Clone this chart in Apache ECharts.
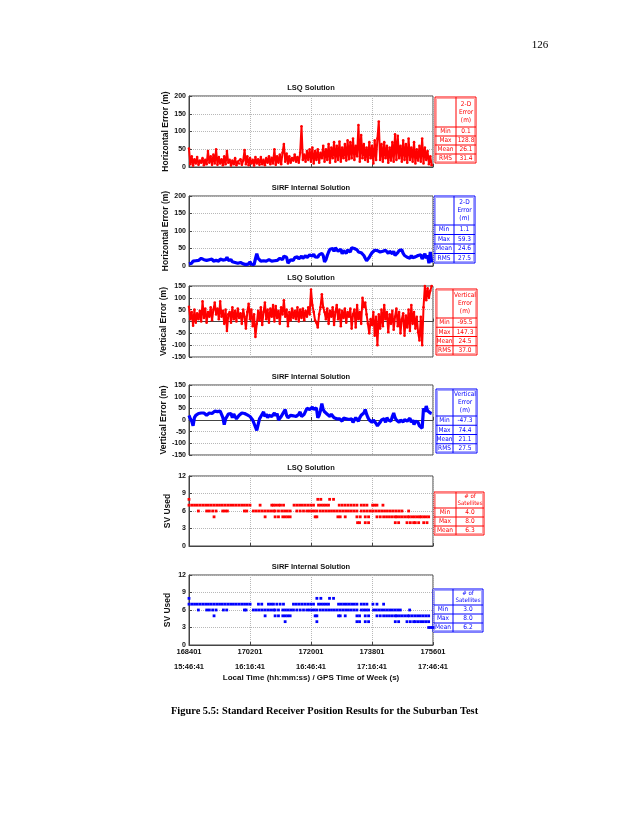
<!DOCTYPE html>
<html><head><meta charset="utf-8">
<script src="https://cdn.jsdelivr.net/npm/echarts@6/dist/echarts.min.js"></script>
<style>html,body{margin:0;padding:0;background:#fff}#c{width:638px;height:826px}</style>
</head><body><div id="c"></div>
<script>
// ---------- DATA ----------
const STEP = 40; // seconds between read samples (offset from 168401 s)
const gpsTicks = ['168401','170201','172001','173801','175601'];
const localTicks = ['15:46:41','16:16:41','16:46:41','17:16:41','17:46:41'];

const lsqHorz = [
52,8,30,4,22,10,28,6,18,12,
25,5,20,8,45,12,30,6,35,10,
50,6,28,10,22,5,30,8,45,12,
20,4,18,8,25,5,15,10,22,6,
18,48,8,30,5,25,10,20,4,28,
10,22,6,28,8,20,5,25,12,30,
8,26,10,50,6,30,12,35,8,40,
65,15,38,10,30,12,25,18,35,15,
28,12,40,115,20,35,15,45,20,50,
15,55,10,45,20,50,12,40,25,60,
15,50,20,65,12,55,25,70,15,60,
20,72,15,55,25,65,18,75,22,70,
25,80,20,60,30,118,15,90,25,65,
20,55,15,70,25,60,10,75,20,80,
128,20,65,15,70,25,60,12,55,18,
70,15,92,20,88,25,60,15,75,20,
65,12,80,20,55,15,70,10,50,18,
60,15,80,10,55,20,45,8,30,5];

const sirfHorz = [
6,10,8,14,18,15,20,16,18,22,
25,18,14,16,12,18,15,20,14,12,
16,18,14,20,15,17,22,18,25,16,
14,18,12,16,10,14,8,12,10,8,
6,10,4,8,6,12,5,8,4,20,
35,22,18,14,17,15,18,14,16,18,
16,14,18,15,20,16,18,22,20,18,
28,32,25,8,6,18,22,16,24,20,
26,20,24,28,22,26,30,24,28,32,
30,28,34,26,30,25,32,28,36,30,
12,18,30,40,48,45,50,42,52,48,
42,38,48,35,44,40,36,46,42,40,
52,56,50,54,46,40,44,38,35,30,
22,15,18,25,32,38,42,45,48,44,
46,40,44,42,38,45,40,36,42,38,
35,42,30,28,38,44,40,46,36,30,
32,25,28,22,30,24,20,26,22,30,
25,32,20,28,35,22,30,8,40,10];

const lsqVert = [
62,10,40,-18,50,-5,35,10,45,0,
85,15,55,-5,40,20,60,5,50,80,
30,55,10,85,20,45,-10,50,-40,30,
40,-5,60,10,45,0,55,15,35,-10,
50,20,-30,40,75,10,50,-20,30,-65,
-10,45,5,60,-15,40,80,10,50,-5,
55,20,70,0,65,15,45,-10,60,30,
90,20,50,-20,40,5,55,15,45,10,
60,0,50,15,55,5,45,20,60,30,
135,70,40,5,-5,-25,30,60,115,60,
40,10,55,-10,45,20,60,-15,40,70,
10,50,-20,45,15,55,-5,40,20,55,
-30,30,50,-25,70,10,40,-10,100,60,
80,30,-10,-50,10,-15,40,-60,20,-100,
30,-30,50,-20,70,10,40,-45,30,-10,
45,-35,20,55,-20,40,-50,10,35,-60,
25,-25,50,-40,70,-10,40,-30,20,-45,
-80,20,-100,60,150,90,140,100,130,150];

const sirfVert = [
20,5,-5,-25,10,20,25,28,22,30,
25,30,28,20,25,30,35,28,32,38,
40,36,42,38,30,10,-20,5,15,25,
20,28,10,25,15,5,12,20,25,30,
35,28,30,22,25,15,10,0,5,-30,
-45,-20,5,15,20,35,15,25,10,20,
25,15,20,30,18,28,0,5,15,25,
35,45,20,10,15,20,12,18,10,15,
20,25,35,15,20,25,30,50,55,45,
50,55,45,48,52,10,20,40,70,45,
35,28,25,20,15,25,18,10,15,5,
0,5,10,-5,8,0,5,-3,2,8,
5,-10,0,10,15,-5,10,20,12,30,
45,25,10,0,-5,-10,0,-8,-15,-25,
-30,-10,0,-5,5,-10,10,0,5,-5,
15,30,10,0,5,-10,0,5,-8,2,
5,-5,0,8,-10,0,-20,-5,0,-10,
-25,-30,-35,50,35,60,40,45,30,28];

// SV used: runs [startSec, endSec, count]
const lsqSv = [
[0,0,8],[3800,3890,8],[4150,4265,8],
[0,1800,7],[2098,2098,7],[2443,2492,7],[2560,2640,7],[2700,2790,7],[3100,3674,7],[3822,4117,7],[4433,4955,7],[5083,5250,7],[5418,5546,7],[5723,5723,7],
[276,276,6],[522,601,6],[699,798,6],[995,1133,6],[1635,1704,6],[1901,2492,6],[2541,2640,6],[2738,2985,6],[3182,3379,6],[3477,3773,6],[3871,4955,6],[5083,5349,6],[5427,6284,6],[6481,6481,6],
[739,739,5],[2246,2246,5],[2541,2640,5],[2768,2985,5],[3723,3773,5],[4393,4462,5],[4610,4610,5],[4955,5053,5],[5201,5299,5],[5546,5644,5],[5743,6087,5],[6130,6450,5],[6500,6800,5],[6850,7072,5],
[4974,5033,4],[5201,5299,4],[6087,6186,4],[6432,6629,4],[6678,6777,4],[6925,7023,4]];

const sirfSv = [
[0,0,8],[3773,3891,8],[4147,4265,8],
[0,1803,7],[2049,2147,7],[2344,2492,7],[2591,2788,7],[3083,3674,7],[3822,4117,7],[4413,4955,7],[5083,5250,7],[5427,5546,7],[5743,5743,7],
[276,276,6],[522,601,6],[699,798,6],[1015,1113,6],[1635,1684,6],[1901,2492,6],[2541,2640,6],[2768,3083,6],[3182,3379,6],[3477,3773,6],[3871,4955,6],[5083,5299,6],[5447,6235,6],[6511,6511,6],
[739,739,5],[2246,2246,5],[2541,2640,5],[2768,2985,5],[3723,3773,5],[4413,4462,5],[4610,4610,5],[4955,5033,5],[5201,5299,5],[5546,5644,5],[5743,6087,5],[6130,6450,5],[6500,7072,5],
[2837,2837,4],[3773,3773,4],[4955,5033,4],[5201,5299,4],[6087,6186,4],[6432,6629,4],[6678,7072,4],
[7072,7200,3]];

const statLabels4 = ['Min','Max','Mean','RMS'];
const statLabels3 = ['Min','Max','Mean'];
const lsqHorzStats = ['0.1','128.8','26.1','31.4'];
const sirfHorzStats = ['1.1','59.3','24.6','27.5'];
const lsqVertStats = ['-95.5','147.3','24.5','37.0'];
const sirfVertStats = ['-47.3','74.4','21.1','27.5'];
const lsqSvStats = ['4.0','8.0','6.3'];
const sirfSvStats = ['3.0','8.0','6.2'];

// ---------- LAYOUT ----------
const RED = '#ff0000', BLUE = '#0000ff';
const SANS = "'Liberation Sans', Arial, sans-serif";
const NARROW = "'Liberation Sans Narrow','DejaVu Sans Condensed','Liberation Sans',sans-serif";
const PLOT_L = 189, PLOT_W = 244;
const panels = [
  {top:96, h:71, title:'LSQ Solution', yname:'Horizontal Error (m)', min:0, max:200, iv:50},
  {top:196, h:70, title:'SiRF Internal Solution', yname:'Horizontal Error (m)', min:0, max:200, iv:50},
  {top:286, h:71, title:'LSQ Solution', yname:'Vertical Error (m)', min:-150, max:150, iv:50},
  {top:385, h:70, title:'SiRF Internal Solution', yname:'Vertical Error (m)', min:-150, max:150, iv:50},
  {top:476, h:70, title:'LSQ Solution', yname:'SV Used', min:0, max:12, iv:3},
  {top:575, h:70, title:'SiRF Internal Solution', yname:'SV Used', min:0, max:12, iv:3}
];
const tables = [
  {x:435, y:97, w:41, split:21, hh:30, rh:9, color:RED, head:['2-D','Error','(m)'], labels:statLabels4, vals:lsqHorzStats},
  {x:434, y:196, w:41, split:20, hh:29, rh:9.5, color:BLUE, head:['2-D','Error','(m)'], labels:statLabels4, vals:sirfHorzStats},
  {x:436, y:289, w:41, split:17, hh:29, rh:9.25, color:RED, head:['Vertical','Error','(m)'], labels:statLabels4, vals:lsqVertStats},
  {x:436, y:389, w:41, split:17, hh:27, rh:9.25, color:BLUE, head:['Vertical','Error','(m)'], labels:statLabels4, vals:sirfVertStats},
  {x:434, y:492, w:50, split:22, hh:16, rh:9, color:RED, head:['# of','Satellites'], labels:statLabels3, vals:lsqSvStats},
  {x:433, y:589, w:50, split:20, hh:16, rh:9, color:BLUE, head:['# of','Satellites'], labels:statLabels3, vals:sirfSvStats}
];

function txt(x, y, s, font, fill, align){
  return {type:'text', x:x, y:y, silent:true,
    style:{text:s, font:font, fill:fill, align:align||'center', verticalAlign:'middle',
           textAlign:align||'center', textVerticalAlign:'middle'}};
}
function tableEls(t){
  const els = [], c = t.color, n = t.labels.length, h = t.hh + n*t.rh;
  els.push({type:'rect', shape:{x:t.x, y:t.y, width:t.w, height:h}, style:{fill:'#fff', stroke:c, lineWidth:1}});
  els.push({type:'rect', shape:{x:t.x+1.5, y:t.y+1.5, width:t.w-3, height:h-3}, style:{fill:'none', stroke:c, lineWidth:0.6, opacity:0.6}});
  els.push({type:'line', shape:{x1:t.x+t.split, y1:t.y, x2:t.x+t.split, y2:t.y+h}, style:{stroke:c, lineWidth:1}});
  const cx1 = t.x + t.split/2, cx2 = t.x + t.split + (t.w - t.split)/2;
  const hf = t.head.length === 3 ? 8 : 7;
  const hc = t.y + t.hh/2;
  t.head.forEach((s,i)=>{
    els.push(txt(cx2, hc + (i - (t.head.length-1)/2)*hf, s, (t.head.length===3?'6.5px ':'6px ')+NARROW, c));
  });
  for (let i=0;i<n;i++){
    const y = t.y + t.hh + i*t.rh;
    els.push({type:'line', shape:{x1:t.x, y1:y, x2:t.x+t.w, y2:y}, style:{stroke:c, lineWidth:1}});
    els.push(txt(cx1, y + t.rh/2, t.labels[i], '6.5px '+NARROW, c));
    els.push(txt(cx2, y + t.rh/2, t.vals[i], '6.5px '+NARROW, c));
  }
  return els;
}

function svRender(color){
  return function(params, api){
    const a = api.coord([api.value(0), api.value(2)]);
    const b = api.coord([api.value(1), api.value(2)]);
    const children = [];
    const len = Math.max(b[0]-a[0], 0);
    const n = Math.max(1, Math.round(len/2.8)+1);
    for (let i=0;i<n;i++){
      const x = n===1 ? a[0] : a[0] + len*i/(n-1);
      children.push({type:'rect', shape:{x:x-1.4, y:a[1]-1.4, width:2.8, height:2.8}, style:{fill:color}});
    }
    return {type:'group', children:children};
  };
}

const grids = [], xAxes = [], yAxes = [];
panels.forEach((p,i)=>{
  const last = i === panels.length-1;
  grids.push({left:PLOT_L, width:PLOT_W, top:p.top, height:p.h, show:true, borderColor:'#444', borderWidth:1, backgroundColor:'#fff'});
  xAxes.push({type:'value', gridIndex:i, min:0, max:7200, interval:1800,
    axisLine:{show:true, lineStyle:{color:'#444', width:1}},
    axisTick:{show:true, inside:true, length:3, lineStyle:{color:'#444'}},
    splitLine:{show:true, lineStyle:{color:'#b8b8b8', type:'dotted', width:1}},
    axisLabel:{show:last, margin:3, fontSize:7.5, fontWeight:'bold', fontFamily:SANS, color:'#111', lineHeight:7.5,
      formatter:function(v){ const k = Math.round(v/1800); return gpsTicks[k] + '\n\n' + localTicks[k]; }},
    name: last ? 'Local Time (hh:mm:ss) / GPS Time of Week (s)' : '',
    nameLocation:'middle', nameGap:29,
    nameTextStyle:{fontSize:8, fontWeight:'bold', fontFamily:SANS, color:'#111'}
  });
  yAxes.push({type:'value', gridIndex:i, min:p.min, max:p.max, interval:p.iv,
    axisLine:{show:true, lineStyle:{color:'#444', width:1}},
    axisTick:{show:true, inside:true, length:3, lineStyle:{color:'#444'}},
    splitLine:{show:true, lineStyle:{color:'#b8b8b8', type:'dotted', width:1}},
    axisLabel:{margin:3, fontSize:7, fontWeight:'bold', fontFamily:SANS, color:'#111'},
    name:p.yname, nameLocation:'middle', nameGap:17,
    nameTextStyle:{fontSize:8.5, fontWeight:'bold', fontFamily:SANS, color:'#111'}
  });
});

function lineSeries(idx, arr, color, w, dots){
  return {type:'line', xAxisIndex:idx, yAxisIndex:idx,
    showSymbol:!!dots, symbol:'circle', symbolSize:dots||0,
    data: arr.map((v,i)=>[i*STEP, v]), lineStyle:{color:color, width:w}, itemStyle:{color:color},
    animation:false, silent:true, z:3};
}
function svSeries(idx, runs, color){
  return {type:'custom', xAxisIndex:idx, yAxisIndex:idx, data:runs,
    dimensions:['t0','t1','sv'], encode:{x:[0,1], y:2},
    renderItem: svRender(color), animation:false, silent:true, z:3};
}

const graphics = [];
panels.forEach(p=>{
  graphics.push(txt(PLOT_L + PLOT_W/2, p.top - 8, p.title, 'bold 7.5px '+SANS, '#111'));
});
tables.forEach(t=>{ tableEls(t).forEach(e=>graphics.push(e)); });
graphics.push(txt(540, 45, '126', "11px 'Liberation Serif', 'Times New Roman', serif", '#000'));
graphics.push(txt(171, 711, 'Figure 5.5: Standard Receiver Position Results for the Suburban Test', "bold 10.4px 'Liberation Serif', 'Times New Roman', serif", '#000', 'left'));

const chart = echarts.init(document.getElementById('c'), null, {renderer:'canvas'});
chart.setOption({
  backgroundColor:'#fff',
  animation:false,
  grid:grids, xAxis:xAxes, yAxis:yAxes,
  series:[
    lineSeries(0, lsqHorz, RED, 2, 2.6),
    lineSeries(1, sirfHorz, BLUE, 3.2),
    lineSeries(2, lsqVert, RED, 2, 2.6),
    lineSeries(3, sirfVert, BLUE, 3.2),
    svSeries(4, lsqSv, RED),
    svSeries(5, sirfSv, BLUE)
  ],
  graphic:{elements:graphics}
});
</script>
</body></html>
